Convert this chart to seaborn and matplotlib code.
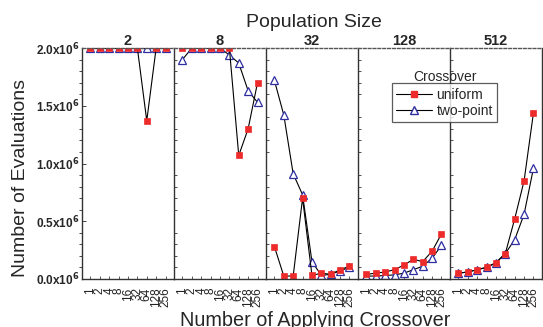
import matplotlib
matplotlib.use("Agg")
import matplotlib.pyplot as plt
import seaborn as sns
import pandas as pd
from matplotlib.ticker import MultipleLocator
from matplotlib.lines import Line2D

sns.set_style("ticks")
plt.rcParams["font.family"] = ["Liberation Sans", "DejaVu Sans"]

# data (values in units of 1e6 evaluations)
x_labels = ["1", "2", "4", "8", "16", "32", "64", "128", "256"]
pop_sizes = ["2", "8", "32", "128", "512"]

uniform_2 = [2.0, 2.0, 2.0, 2.0, 2.0, 2.0, 1.37, 2.0, 2.0]
two_point_2 = [2.0, 2.0, 2.0, 2.0, 2.0, 2.0, 2.0, 2.0, 2.0]
uniform_8 = [2.0, 2.0, 2.0, 2.0, 2.0, 2.0, 1.07, 1.30, 1.70]
two_point_8 = [1.90, 2.0, 2.0, 2.0, 2.0, 1.94, 1.87, 1.63, 1.53]
uniform_32 = [0.28, 0.025, 0.025, 0.70, 0.03, 0.05, 0.04, 0.08, 0.11]
two_point_32 = [1.72, 1.42, 0.91, 0.73, 0.15, 0.03, 0.04, 0.07, 0.10]
uniform_128 = [0.04, 0.05, 0.06, 0.08, 0.12, 0.17, 0.15, 0.24, 0.39]
two_point_128 = [0.025, 0.025, 0.03, 0.035, 0.05, 0.08, 0.11, 0.18, 0.29]
uniform_512 = [0.05, 0.06, 0.08, 0.10, 0.14, 0.22, 0.52, 0.85, 1.44]
two_point_512 = [0.05, 0.06, 0.08, 0.10, 0.14, 0.22, 0.34, 0.56, 0.96]

uniform_all = [uniform_2, uniform_8, uniform_32, uniform_128, uniform_512]
two_point_all = [two_point_2, two_point_8, two_point_32, two_point_128, two_point_512]

RED = "#ee2b2b"
BLUE = "#2e2ea0"

fig, axes = plt.subplots(1, 5, figsize=(5.43, 3.27), dpi=100, sharey=True)
fig.subplots_adjust(left=0.151, right=0.998, top=0.853, bottom=0.147, wspace=0)

for i, ax in enumerate(axes):
    df = pd.DataFrame({
        "pos": list(range(len(x_labels))),
        "uniform": uniform_all[i],
        "two_point": two_point_all[i],
    })
    sns.lineplot(data=df, x="pos", y="two_point", ax=ax, color="black", lw=0.8,
                 marker="^", markersize=5.5, markerfacecolor="white",
                 markeredgecolor=BLUE, markeredgewidth=0.9, clip_on=True)
    sns.lineplot(data=df, x="pos", y="uniform", ax=ax, color="black", lw=0.8,
                 marker="s", markersize=4.5, markerfacecolor=RED,
                 markeredgecolor=RED, markeredgewidth=0.5, clip_on=True)

    ax.set_xlim(-0.9, 8.9)
    ax.set_ylim(0, 2.0)
    ax.set_xlabel("")
    ax.set_ylabel("")
    ax.set_title(pop_sizes[i], fontsize=10.5, fontweight="bold", pad=2)
    ax.set_xticks(range(len(x_labels)))
    ax.set_xticklabels(x_labels, rotation=90, fontsize=8.5, va="top")
    ax.tick_params(axis="x", direction="in", length=2, width=0.6, pad=6, colors="#444444",
                   labelcolor="#222222")
    for s in ["left", "right", "bottom"]:
        ax.spines[s].set_color("#333333")
        ax.spines[s].set_linewidth(1.0)
    ax.spines["top"].set_linestyle((0, (2, 1.5)))
    ax.spines["top"].set_color("#555555")
    ax.spines["top"].set_linewidth(1.0)
    ax.spines["right"].set_visible(i == 4)
    if i == 0:
        ax.yaxis.set_major_locator(MultipleLocator(0.5))
        ax.set_yticklabels([r"%.1fx10$^{\mathbf{6}}$" % v for v in ax.get_yticks()],
                           fontsize=8.5, fontweight="bold")
        ax.tick_params(axis="y", direction="in", length=3, width=0.6, pad=2)
    else:
        ax.tick_params(axis="y", which="major", length=0)
        step = 0.25 if i == 1 else 0.1
        ax.yaxis.set_minor_locator(MultipleLocator(step))
        ax.tick_params(axis="y", which="minor", direction="in", length=2.5, width=0.6,
                       colors="#333333")

fig.text(0.578, 0.917, "Population Size", ha="center", va="baseline", fontsize=14)
fig.text(0.58, 0.004, "Number of Applying Crossover", ha="center", va="baseline",
         fontsize=14.3)
fig.text(0.037, 0.456, "Number of Evaluations", ha="center", va="center",
         rotation=90, fontsize=14)

handles = [
    Line2D([], [], color="black", lw=0.8, marker="s", markersize=4.5,
           markerfacecolor=RED, markeredgecolor=RED),
    Line2D([], [], color="black", lw=0.8, marker="^", markersize=5.5,
           markerfacecolor="white", markeredgecolor=BLUE),
]
leg = fig.legend(handles, ["uniform", "two-point"], loc="upper left",
                 bbox_to_anchor=(0.722, 0.745), fontsize=10, frameon=True,
                 fancybox=False, handlelength=2.6, handletextpad=0.3,
                 borderpad=0.3, labelspacing=0.2, borderaxespad=0)
leg.get_frame().set_edgecolor("#333333")
leg.get_frame().set_linewidth(0.9)
fig.text(0.82, 0.765, "Crossover", ha="center", va="center", fontsize=10)

fig.savefig("out.png", dpi=100)
